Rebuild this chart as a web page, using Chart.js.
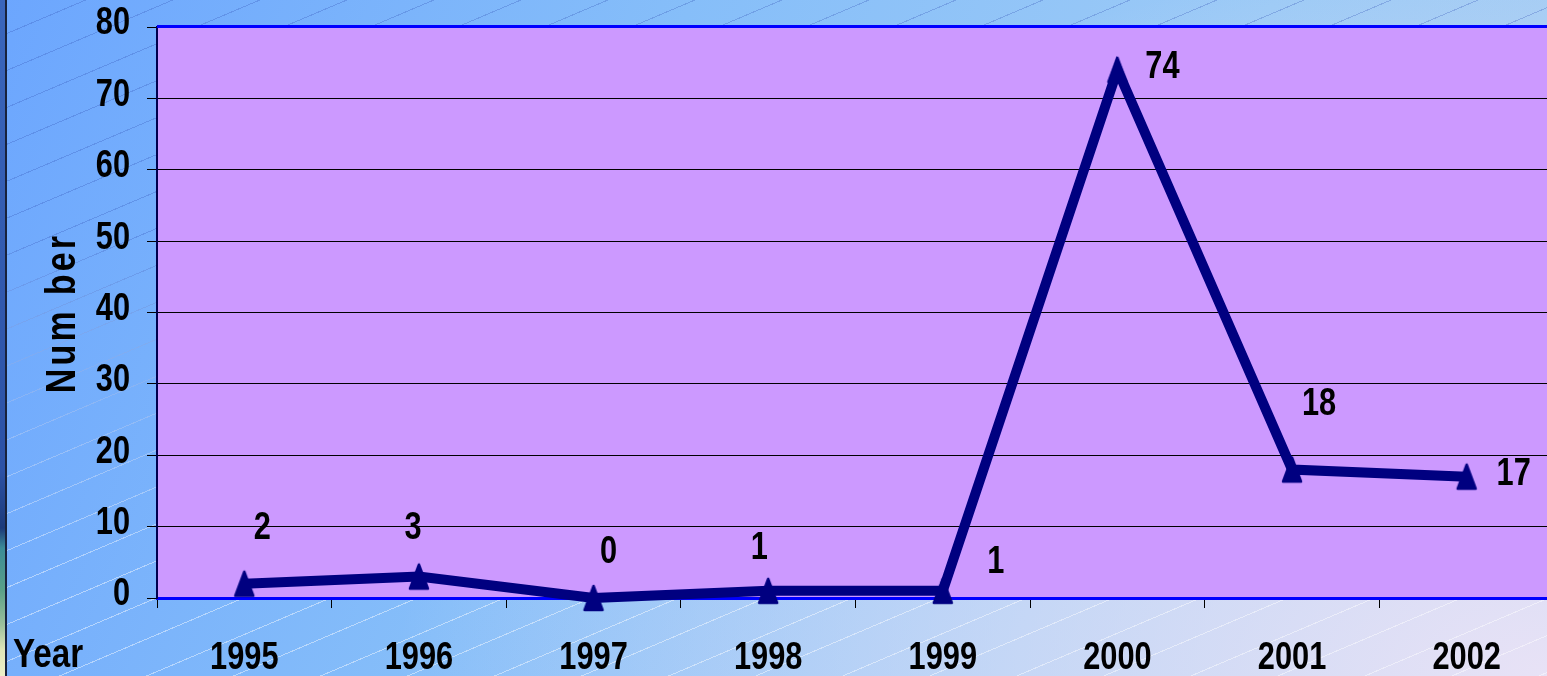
<!DOCTYPE html>
<html>
<head>
<meta charset="utf-8">
<title>Number by Year</title>
<script src="https://cdn.jsdelivr.net/npm/chart.js@4.4.1/dist/chart.umd.min.js"></script>
<style>
  html, body { margin: 0; padding: 0; width: 1547px; height: 676px; overflow: hidden; }
  body {
    position: relative;
    background:
      radial-gradient(ellipse 1150px 720px at 1547px 676px, rgba(232,226,246,1) 0%, rgba(232,226,246,0) 100%),
      linear-gradient(112deg, #6ca6fe 0%, #86bef9 38%, #9ccaf6 70%, #aacef2 100%);
  }
  .hatch { position: absolute; left: 0; top: 0; width: 1547px; height: 676px; pointer-events: none; }
  #hatchDark {
    background: repeating-linear-gradient(157deg, rgba(0,0,0,0) 0px, rgba(0,0,0,0) 33px, rgba(50,80,180,0.28) 33px, rgba(50,80,180,0.28) 34px);
    -webkit-mask-image: linear-gradient(to bottom, #000 0%, #000 35%, rgba(0,0,0,0) 80%);
    mask-image: linear-gradient(to bottom, #000 0%, #000 35%, rgba(0,0,0,0) 80%);
  }
  #hatchLight {
    background: repeating-linear-gradient(157deg, rgba(0,0,0,0) 0px, rgba(0,0,0,0) 33px, rgba(255,255,255,0.45) 33px, rgba(255,255,255,0.45) 34px);
    -webkit-mask-image: linear-gradient(to bottom, rgba(0,0,0,0) 35%, #000 85%);
    mask-image: linear-gradient(to bottom, rgba(0,0,0,0) 35%, #000 85%);
  }
  #edge {
    position: absolute; left: 0; top: 0; width: 5px; height: 676px;
    border-right: 2px solid #18223c;
    background: linear-gradient(to bottom, #3a66bc 0px, #2c52a6 470px, #1c3a7a 528px, #3c8c96 548px, #5aa088 590px, #9cc09c 625px, #dfe6b8 650px, #eef0c8 676px);
  }
  #wrap { position: absolute; left: 0; top: 0; width: 1547px; height: 676px; overflow: hidden; }
</style>
</head>
<body>
<div id="hatchDark" class="hatch"></div>
<div id="hatchLight" class="hatch"></div>
<div id="edge"></div>
<div id="wrap"><canvas id="chart" width="1576" height="676"></canvas></div>
<script>
// Yearly counts
const years = ['1995', '1996', '1997', '1998', '1999', '2000', '2001', '2002'];
const counts = [2, 3, 0, 1, 1, 74, 18, 17];

// Value axis range
const yMin = 0;
const yMax = 80;
const yStep = 10;

const axisTitleY = 'Num ber';
const axisTitleX = 'Year';

const FONT = "'Liberation Sans', Arial, sans-serif";
const NAVY = '#000080';
const TEXT_SQUEEZE = 0.81;   // narrow lettering, squeezed along the reading direction

// Every string on this canvas is set in a horizontally condensed face.
function condenseText(ctx, k) {
  const plainFill = ctx.fillText.bind(ctx);
  ctx.fillText = function (text, x, y) {
    this.save();
    this.translate(x, y);
    this.scale(k, 1);
    plainFill(text, 0, 0);
    this.restore();
  };
}

// Tall triangle marker
function makeTriangle() {
  const c = document.createElement('canvas');
  c.width = 24; c.height = 30;
  const g = c.getContext('2d');
  g.beginPath();
  g.moveTo(12, 3);
  g.lineTo(21, 27);
  g.lineTo(3, 27);
  g.closePath();
  g.fillStyle = NAVY;
  g.strokeStyle = NAVY;
  g.lineWidth = 2.5;
  g.lineJoin = 'round';
  g.fill();
  g.stroke();
  return c;
}

// Purple plot area with a blue top rule
const plotFrame = {
  id: 'plotFrame',
  beforeDraw(chart) {
    const { ctx, chartArea: a } = chart;
    ctx.save();
    ctx.fillStyle = '#cc99ff';
    ctx.fillRect(a.left, a.top, a.right - a.left, a.bottom - a.top);
    ctx.restore();
  },
  beforeDatasetsDraw(chart) {
    const { ctx, chartArea: a } = chart;
    ctx.save();
    ctx.strokeStyle = '#0000ff';
    ctx.lineWidth = 3;
    ctx.beginPath();
    ctx.moveTo(a.left, a.top - 0.5);
    ctx.lineTo(chart.width, a.top - 0.5);
    ctx.stroke();
    ctx.restore();
  }
};

// Value labels next to each point
const pointLabels = {
  id: 'pointLabels',
  afterDatasetsDraw(chart, args, opts) {
    const { ctx } = chart;
    const meta = chart.getDatasetMeta(0);
    const values = chart.data.datasets[0].data;
    ctx.save();
    ctx.font = opts.font;
    ctx.fillStyle = '#000';
    ctx.textAlign = 'center';
    ctx.textBaseline = 'middle';
    meta.data.forEach((pt, i) => {
      const [dx, dy] = opts.offsets[i];
      ctx.fillText(String(values[i]), pt.x + dx, pt.y + dy);
    });
    ctx.restore();
  }
};

// Axis titles
const axisTitles = {
  id: 'axisTitles',
  afterDraw(chart, args, opts) {
    const { ctx } = chart;
    ctx.save();
    ctx.fillStyle = '#000';
    ctx.font = opts.yFont;
    ctx.textAlign = 'center';
    ctx.textBaseline = 'alphabetic';
    ctx.translate(opts.yPos[0], opts.yPos[1]);
    ctx.rotate(-Math.PI / 2);
    ctx.letterSpacing = opts.ySpacing;
    ctx.fillText(axisTitleY, 0, 0);
    ctx.restore();

    ctx.save();
    ctx.fillStyle = '#000';
    ctx.font = opts.xFont;
    ctx.textAlign = 'left';
    ctx.textBaseline = 'alphabetic';
    ctx.fillText(axisTitleX, opts.xPos[0], opts.xPos[1]);
    ctx.restore();
  }
};

const canvas = document.getElementById('chart');
const ctx2d = canvas.getContext('2d');
condenseText(ctx2d, TEXT_SQUEEZE);

new Chart(ctx2d, {
  type: 'line',
  data: {
    labels: years,
    datasets: [{
      data: counts,
      borderColor: NAVY,
      backgroundColor: NAVY,
      borderWidth: 10,
      borderJoinStyle: 'miter',
      tension: 0,
      fill: false,
      clip: false,
      pointStyle: makeTriangle(),
      pointRadius: 12,
      pointHoverRadius: 12
    }]
  },
  options: {
    responsive: false,
    animation: false,
    events: [],
    layout: { padding: { top: 27, right: 6, left: 0, bottom: 0 } },
    plugins: {
      legend: { display: false },
      tooltip: { enabled: false },
      pointLabels: {
        font: "bold 38px " + FONT,
        offsets: [[18, -55], [-6, -48], [15, -45], [-9, -42], [53, -28], [45, -2], [27, -65], [47, -2]]
      },
      axisTitles: {
        yFont: "bold 42px " + FONT,
        ySpacing: '4px',
        yPos: [75, 313],
        xFont: "bold 41px " + FONT,
        xPos: [13, 667]
      }
    },
    scales: {
      x: {
        offset: true,
        grid: {
          display: true,
          offset: true,
          drawOnChartArea: false,
          tickLength: 10,
          tickColor: '#000',
          tickWidth: 1
        },
        border: { display: true, color: '#0000ff', width: 3 },
        ticks: {
          color: '#000',
          font: { family: FONT, size: 38, weight: 'bold' },
          padding: 28,
          maxRotation: 0,
          autoSkip: false
        },
        afterFit(scale) {
          scale.height = 78;
          scale.paddingLeft = 0; scale.paddingRight = 0;
          scale.paddingTop = 0; scale.paddingBottom = 0;
        }
      },
      y: {
        min: yMin,
        max: yMax,
        grid: {
          color: (c) => (c.tick && c.tick.value === yMin ? 'rgba(0,0,0,0)' : '#000'),
          lineWidth: 1,
          tickLength: 10,
          tickColor: '#000',
          tickWidth: 1
        },
        border: { display: true, color: '#00004d', width: 2 },
        ticks: {
          stepSize: yStep,
          color: '#000',
          font: { family: FONT, size: 38, weight: 'bold' },
          padding: 17,
          labelOffset: -3
        },
        afterFit(scale) {
          scale.width = 157;
          scale.paddingLeft = 0; scale.paddingRight = 0;
          scale.paddingTop = 0; scale.paddingBottom = 0;
        }
      }
    }
  },
  plugins: [plotFrame, pointLabels, axisTitles]
});
</script>
</body>
</html>
